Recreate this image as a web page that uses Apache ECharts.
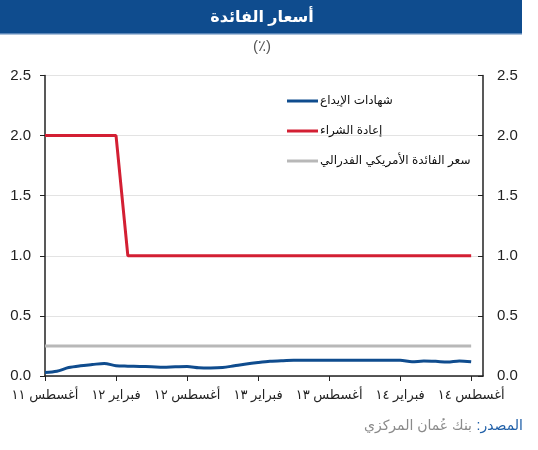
<!DOCTYPE html>
<html>
<head>
<meta charset="utf-8">
<script src="https://cdn.jsdelivr.net/npm/echarts@6/dist/echarts.min.js"></script>
<style>
html,body{margin:0;padding:0;background:#fff;}
#c{width:538px;height:450px;}
</style>
</head>
<body>
<div id="c" dir="rtl"></div>
<script>
var categories = ['2011-08','2011-09','2011-10','2011-11','2011-12','2012-01','2012-02','2012-03','2012-04','2012-05','2012-06','2012-07','2012-08','2012-09','2012-10','2012-11','2012-12','2013-01','2013-02','2013-03','2013-04','2013-05','2013-06','2013-07','2013-08','2013-09','2013-10','2013-11','2013-12','2014-01','2014-02','2014-03','2014-04','2014-05','2014-06','2014-07','2014-08','2014-09'];
var tickLabels = ['أغسطس ١١','فبراير ١٢','أغسطس ١٢','فبراير ١٣','أغسطس ١٣','فبراير ١٤','أغسطس ١٤'];
var depositCerts = [0.03,0.04,0.07,0.085,0.095,0.105,0.085,0.082,0.08,0.077,0.072,0.076,0.078,0.068,0.066,0.07,0.085,0.10,0.112,0.122,0.127,0.13,0.13,0.13,0.13,0.13,0.13,0.13,0.13,0.13,0.13,0.118,0.125,0.122,0.116,0.125,0.118,null];
var repoRate = [2,2,2,2,2,2,2,1,1,1,1,1,1,1,1,1,1,1,1,1,1,1,1,1,1,1,1,1,1,1,1,1,1,1,1,1,1,null];
var fedRate = [0.25,0.25,0.25,0.25,0.25,0.25,0.25,0.25,0.25,0.25,0.25,0.25,0.25,0.25,0.25,0.25,0.25,0.25,0.25,0.25,0.25,0.25,0.25,0.25,0.25,0.25,0.25,0.25,0.25,0.25,0.25,0.25,0.25,0.25,0.25,0.25,0.25,null];
var seriesNames = ['شهادات الإيداع','إعادة الشراء','سعر الفائدة الأمريكي الفدرالي'];
var yTicks = [0, 2.5, 0.5];

var FONT = 'Liberation Sans, Arial, DejaVu Sans, sans-serif';
var chart = echarts.init(document.getElementById('c'), null, {renderer:'canvas'});
var yAxisBase = function(pos){
  return {
    type:'value', position:pos, min:yTicks[0], max:yTicks[1], interval:yTicks[2],
    axisLine:{show:true, lineStyle:{color:'#222', width:1.5}},
    axisTick:{show:true, inside: pos==='right', length:5, lineStyle:{color:'#222'}},
    axisLabel:{color:'#222', fontSize:15, fontFamily:FONT, margin: 14, formatter:function(v){return v.toFixed(1);}},
    splitLine:{show: pos==='left', lineStyle:{color:'#e3e3e3', width:1}}
  };
};
chart.setOption({
  animation:false,
  backgroundColor:'#fff',
  graphic:[
    {type:'rect', shape:{x:0,y:0,width:522,height:34}, style:{fill:'#0f4c8e'}},
    {type:'rect', shape:{x:0,y:33,width:522,height:1.5}, style:{fill:'#5b86b8'}},
    {type:'text', x:262, y:18, style:{text:'أسعار الفائدة', fill:'#fff', font:'bold 16px '+FONT, align:'center', verticalAlign:'middle'}},
    {type:'text', x:262, y:47, style:{text:'(٪)', fill:'#555', font:'15px '+FONT, align:'center', verticalAlign:'middle'}},
    {type:'text', x:523, y:426, style:{text:'المصدر:', fill:'#1f5fa8', font:'14px '+FONT, align:'right', verticalAlign:'middle'}},
    {type:'text', x:472, y:426, style:{text:'بنك عُمان المركزي', fill:'#8a8a8a', font:'14px '+FONT, align:'right', verticalAlign:'middle'}}
  ],
  grid:{left:45, right:55, top:75.5, bottom:74},
  legend:{
    orient:'vertical', left:282, top:90, itemGap:18, itemWidth:31, itemHeight:3,
    icon:'rect',
    textStyle:{color:'#111', fontSize:12, fontFamily:FONT, padding:[0,0,0,-3]},
    data:seriesNames
  },
  xAxis:{
    type:'category', data:categories, boundaryGap:false,
    axisLine:{lineStyle:{color:'#222', width:1.5}},
    axisTick:{show:true, interval:5, length:5, lineStyle:{color:'#222'}},
    axisLabel:{interval:5, color:'#222', fontSize:13, fontFamily:FONT, margin:13,
      formatter:function(v, i){ return tickLabels[i/6] || ''; }},
    splitLine:{show:false}
  },
  yAxis:[yAxisBase('left'), yAxisBase('right')],
  series:[
    {name:seriesNames[0], type:'line', data:depositCerts, symbol:'none', smooth:0.3, lineStyle:{color:'#0f4c8e', width:3}, itemStyle:{color:'#0f4c8e'}, z:4},
    {name:seriesNames[1], type:'line', data:repoRate, symbol:'none', lineStyle:{color:'#d31f33', width:3}, itemStyle:{color:'#d31f33'}, z:3},
    {name:seriesNames[2], type:'line', data:fedRate, symbol:'none', lineStyle:{color:'#b8b8b8', width:3}, itemStyle:{color:'#b8b8b8'}, z:2}
  ]
});
</script>
</body>
</html>
